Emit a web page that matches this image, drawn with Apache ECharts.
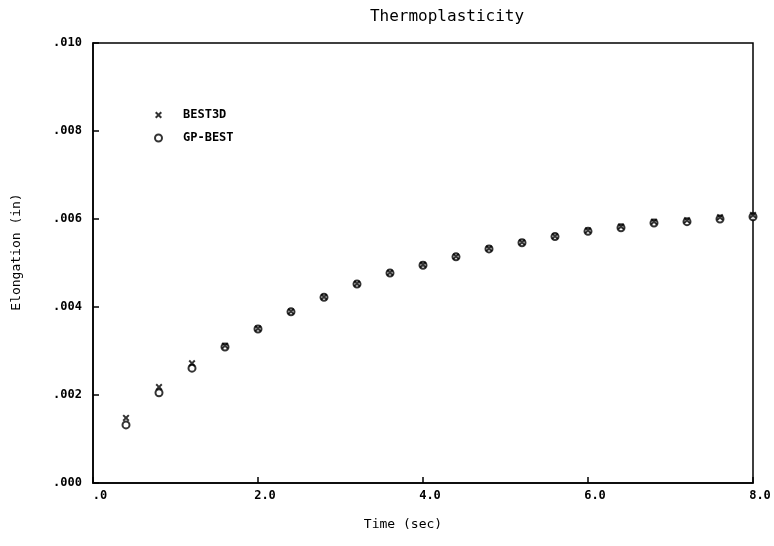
<!DOCTYPE html>
<html>
<head>
    <meta charset="utf-8" />
    <title>Thermoplasticity</title>
    <script src="https://cdn.jsdelivr.net/npm/echarts@6/dist/echarts.min.js"></script>
    <style>
        html, body { margin: 0; padding: 0; background: #fff; }
        #container { width: 774px; height: 546px; }
    </style>
</head>
<body>
<div id="container"></div>
<script>
    // 数据
    var times = [0.4, 0.8, 1.2, 1.6, 2.0, 2.4, 2.8, 3.2, 3.6, 4.0,
                 4.4, 4.8, 5.2, 5.6, 6.0, 6.4, 6.8, 7.2, 7.6, 8.0];
    var best3d = [0.00148, 0.00218, 0.00272, 0.00312, 0.00351, 0.00390, 0.00423, 0.00453, 0.00478, 0.00496,
                  0.00515, 0.00533, 0.00547, 0.00561, 0.00574, 0.00583, 0.00594, 0.00597, 0.00604, 0.00609];
    var gpBest = [0.00132, 0.00205, 0.00261, 0.00309, 0.00350, 0.00389, 0.00422, 0.00452, 0.00477, 0.00495,
                  0.00514, 0.00532, 0.00546, 0.00560, 0.00572, 0.00580, 0.00591, 0.00594, 0.00600, 0.00605];
    var seriesNames = ['BEST3D', 'GP-BEST'];

    function pairs(ys) {
        var out = [];
        for (var i = 0; i < times.length; i++) {
            out.push([times[i], ys[i]]);
        }
        return out;
    }

    var font = '"DejaVu Sans Mono", monospace';
    // 粗一点的 x 符号
    var crossPath = 'path://M0,2L2,0L5,3L8,0L10,2L7,5L10,8L8,10L5,7L2,10L0,8L3,5Z';

    var myChart = echarts.init(document.getElementById('container'));
    var option = {
        backgroundColor: '#fff',
        animation: false,
        title: {
            text: 'Thermoplasticity',
            left: 442,
            top: 4,
            textAlign: 'center',
            textStyle: { fontFamily: font, fontSize: 16, fontWeight: 'normal', color: '#000' }
        },
        legend: {
            orient: 'vertical',
            left: 149,
            top: 104,
            itemWidth: 7,
            itemHeight: 7,
            itemGap: 11,
            data: [
                { name: seriesNames[0], icon: crossPath },
                { name: seriesNames[1], icon: 'emptyCircle' }
            ],
            textStyle: { fontFamily: font, fontSize: 12, fontWeight: 'bold', color: '#000', padding: [0, 0, 0, 16], lineHeight: 12 }
        },
        grid: {
            left: 93,
            right: 21,
            top: 43,
            bottom: 63,
            outerBoundsMode: 'none',
            show: true,
            borderColor: '#000',
            borderWidth: 1.5
        },
        xAxis: {
            type: 'value',
            min: 0,
            max: 8,
            interval: 2,
            name: 'Time (sec)',
            nameLocation: 'middle',
            nameGap: 35,
            nameTextStyle: { fontFamily: font, fontSize: 13, color: '#000', padding: [0, 40, 0, 0] },
            axisLine: { lineStyle: { color: '#000', width: 1.5 } },
            axisTick: { inside: true, length: 6, lineStyle: { color: '#000', width: 1.5 } },
            splitLine: { show: false },
            axisLabel: {
                fontFamily: font, fontSize: 12, fontWeight: 'bold', color: '#000', margin: 7,
                padding: [0, 0, 0, 14],
                formatter: function (v) { return v.toFixed(1).replace(/^0\./, '.'); }
            }
        },
        yAxis: {
            type: 'value',
            min: 0,
            max: 0.01,
            interval: 0.002,
            name: 'Elongation (in)',
            nameLocation: 'middle',
            nameGap: 70,
            nameTextStyle: { fontFamily: font, fontSize: 13, color: '#000', padding: [0, 0, 0, 22] },
            axisLine: { lineStyle: { color: '#000', width: 1.5 } },
            axisTick: { inside: true, length: 6, lineStyle: { color: '#000', width: 1.5 } },
            splitLine: { show: false },
            axisLabel: {
                fontFamily: font, fontSize: 12, fontWeight: 'bold', color: '#000', margin: 11,
                formatter: function (v) { return v.toFixed(3).replace(/^0\./, '.'); }
            }
        },
        series: [
            {
                name: seriesNames[0],
                type: 'scatter',
                symbol: crossPath,
                symbolSize: 7,
                z: 3,
                itemStyle: { color: '#000' },
                data: pairs(best3d)
            },
            {
                name: seriesNames[1],
                type: 'scatter',
                symbol: 'emptyCircle',
                symbolSize: 7,
                z: 2,
                itemStyle: { color: '#000', borderColor: '#000', borderWidth: 2.5 },
                data: pairs(gpBest)
            }
        ]
    };
    myChart.setOption(option, true);
</script>
</body>
</html>
